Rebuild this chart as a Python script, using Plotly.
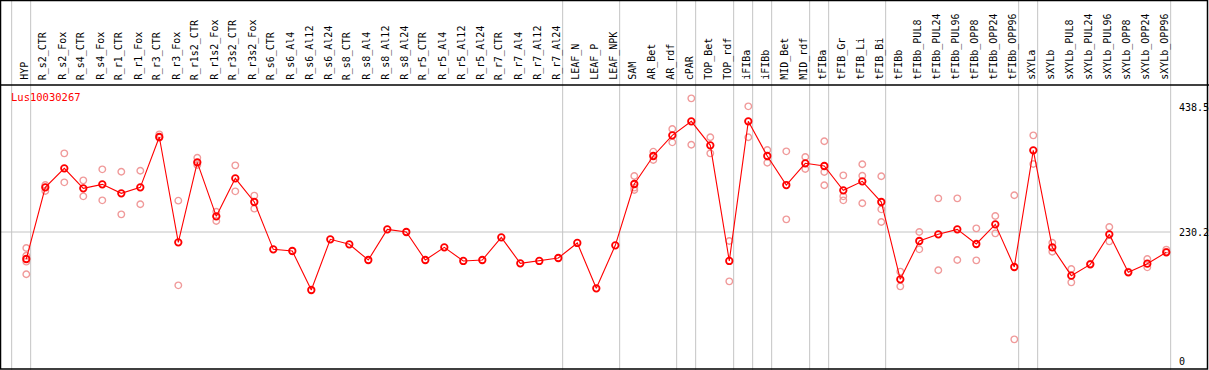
import plotly.graph_objects as go

categories = ["HYP", "R_s2_CTR", "R_s2_Fox", "R_s4_CTR", "R_s4_Fox", "R_r1_CTR", "R_r1_Fox",
              "R_r3_CTR", "R_r3_Fox", "R_r1s2_CTR", "R_r1s2_Fox", "R_r3s2_CTR", "R_r3s2_Fox",
              "R_s6_CTR", "R_s6_Al4", "R_s6_Al12", "R_s6_Al24", "R_s8_CTR", "R_s8_Al4",
              "R_s8_Al12", "R_s8_Al24", "R_r5_CTR", "R_r5_Al4", "R_r5_Al12", "R_r5_Al24",
              "R_r7_CTR", "R_r7_Al4", "R_r7_Al12", "R_r7_Al24", "LEAF_N", "LEAF_P", "LEAF_NPK",
              "SAM", "AR_Bet", "AR_rdf", "cPAR", "TOP_Bet", "TOP_rdf", "iFIBa", "iFIBb",
              "MID_Bet", "MID_rdf", "tFIBa", "tFIB_Gr", "tFIB_Li", "tFIB_Bi", "tFIBb",
              "tFIBb_PUL8", "tFIBb_PUL24", "tFIBb_PUL96", "tFIBb_OPP8", "tFIBb_OPP24",
              "tFIBb_OPP96", "sXYLa", "sXYLb", "sXYLb_PUL8", "sXYLb_PUL24", "sXYLb_PUL96",
              "sXYLb_OPP8", "sXYLb_OPP24", "sXYLb_OPP96"]

mean_values = [182.2, 309.6, 343.4, 307.8, 314.9, 298.9, 309.6, 399.1, 211.8, 354.0,
               258.0, 325.6, 283.5, 199.4, 196.4, 127.1, 217.2, 208.3, 180.4, 234.9,
               230.2, 180.4, 202.9, 178.7, 180.4, 220.7, 174.5, 178.7, 184.0, 210.7,
               130.1, 206.5, 315.5, 365.3, 402.0, 426.9, 384.3, 178.7, 426.9, 365.3,
               313.7, 352.3, 347.5, 304.3, 320.3, 283.5, 146.1, 214.2, 226.1, 234.9,
               208.9, 243.8, 168.0, 375.4, 202.9, 152.6, 172.7, 226.1, 158.5, 173.9, 194.1]

replicate_values = [
    [201.8, 188.1, 177.5, 155.0], [313.7, 303.1], [370.0, 318.5], [322.0, 293.6],
    [341.6, 286.5], [337.4, 261.6], [339.2, 279.4], [403.8, 397.9], [285.9, 135.4],
    [362.3, 349.3], [266.3, 249.8], [348.7, 302.5], [294.8, 271.7],
    [], [], [], [], [], [], [], [], [], [], [], [], [], [], [], [], [], [], [],
    [329.7, 309.0, 304.9], [373.0, 358.2], [413.3, 389.6], [467.8, 385.4],
    [398.5, 370.0], [214.2, 142.5], [453.6, 398.5], [376.0, 353.4], [373.6, 252.7],
    [363.5, 342.2], [391.4, 336.9, 313.2], [330.9, 293.6, 286.5], [350.5, 330.3, 281.2],
    [329.2, 270.5, 248.0], [159.7, 133.6], [230.2, 199.4], [290.0, 162.1],
    [290.0, 180.4], [236.7, 179.8], [258.6, 227.8], [295.4, 39.4], [402.0, 351.1],
    [211.2, 195.2], [164.4, 140.7], [173.9], [239.1, 213.6], [159.7], [182.2, 167.4],
    [198.8, 195.2]]

group_ends = [-1, 0, 28, 31, 34, 35, 37, 38, 39, 41, 42, 45, 52, 53, 60]
ytick_values = [0, 230.2]
ytick_labels = ["0", "230.2"]
top_label = "438.5"
gene_name = "Lus10030267"

W, H = 1209, 370
px_per_cat = 19.0
x0_px = 26.3
xmin = -x0_px / px_per_cat
xmax = xmin + W / px_per_cat
units_per_px = 230.2 / (361.5 - 232.0)
ymax = 361.5 * units_per_px
ymin = (361.5 - H) * units_per_px

def py(p):
    return 1 - p / H

fig = go.Figure()

rx, ry = [], []
for i, reps in enumerate(replicate_values):
    for v in reps:
        rx.append(i)
        ry.append(v)

fig.add_trace(go.Scatter(x=rx, y=ry, mode="markers",
                         marker=dict(symbol="circle-open", size=6.5, color="#f09a9a",
                                     line=dict(width=1.4, color="#f09a9a")),
                         hoverinfo="skip", showlegend=False))
fig.add_trace(go.Scatter(x=list(range(len(categories))), y=mean_values, mode="lines+markers",
                         line=dict(color="#ff0000", width=1.1),
                         marker=dict(symbol="circle-open", size=6.5, color="#ff0000",
                                     line=dict(width=1.8, color="#ff0000")),
                         showlegend=False))

shapes = []
for k in group_ends:
    xv = k + 0.23
    shapes.append(dict(type="line", xref="x", yref="paper", x0=xv, x1=xv, y0=0, y1=1,
                       line=dict(color="#c4c4c4", width=1), layer="below"))
shapes.append(dict(type="line", xref="x", yref="y", x0=xmin, x1=60.23, y0=230.2, y1=230.2,
                   line=dict(color="#c4c4c4", width=1), layer="below"))
shapes.append(dict(type="line", xref="paper", yref="paper", x0=0, x1=1, y0=py(85), y1=py(85),
                   line=dict(color="black", width=1.5)))
shapes.append(dict(type="rect", xref="paper", yref="paper", x0=0.5 / W, x1=1 - 1.5 / W,
                   y0=py(369), y1=py(0.5), line=dict(color="black", width=1.5),
                   fillcolor="rgba(0,0,0,0)"))

font = dict(family="DejaVu Sans Mono", size=10, color="black")
annotations = []
for i, c in enumerate(categories):
    annotations.append(dict(x=i - 0.08, y=py(82), xref="x", yref="paper", text=c,
                            textangle=-90, showarrow=False, xanchor="center", yanchor="bottom",
                            font=font))
for v, t in zip(ytick_values, ytick_labels):
    annotations.append(dict(x=1177 / W, y=v, xref="paper", yref="y", text=t, showarrow=False,
                            xanchor="left", yanchor="middle", font=font))
annotations.append(dict(x=1177 / W, y=py(107.5), xref="paper", yref="paper", text=top_label,
                        showarrow=False, xanchor="left", yanchor="middle", font=font))
annotations.append(dict(x=9 / W, y=py(97), xref="paper", yref="paper", text=gene_name,
                        showarrow=False, xanchor="left", yanchor="middle",
                        font=dict(family="DejaVu Sans Mono", size=10.5, color="#ff0000")))

fig.update_layout(
    width=W, height=H, margin=dict(l=0, r=0, t=0, b=0),
    paper_bgcolor="white", plot_bgcolor="white",
    xaxis=dict(range=[xmin, xmax], visible=False, fixedrange=True),
    yaxis=dict(range=[ymin, ymax], visible=False, fixedrange=True),
    shapes=shapes, annotations=annotations,
)

fig.write_html("out.html", config={"displayModeBar": False},
               post_script="document.body.style.margin='0';document.body.style.overflow='hidden';")
